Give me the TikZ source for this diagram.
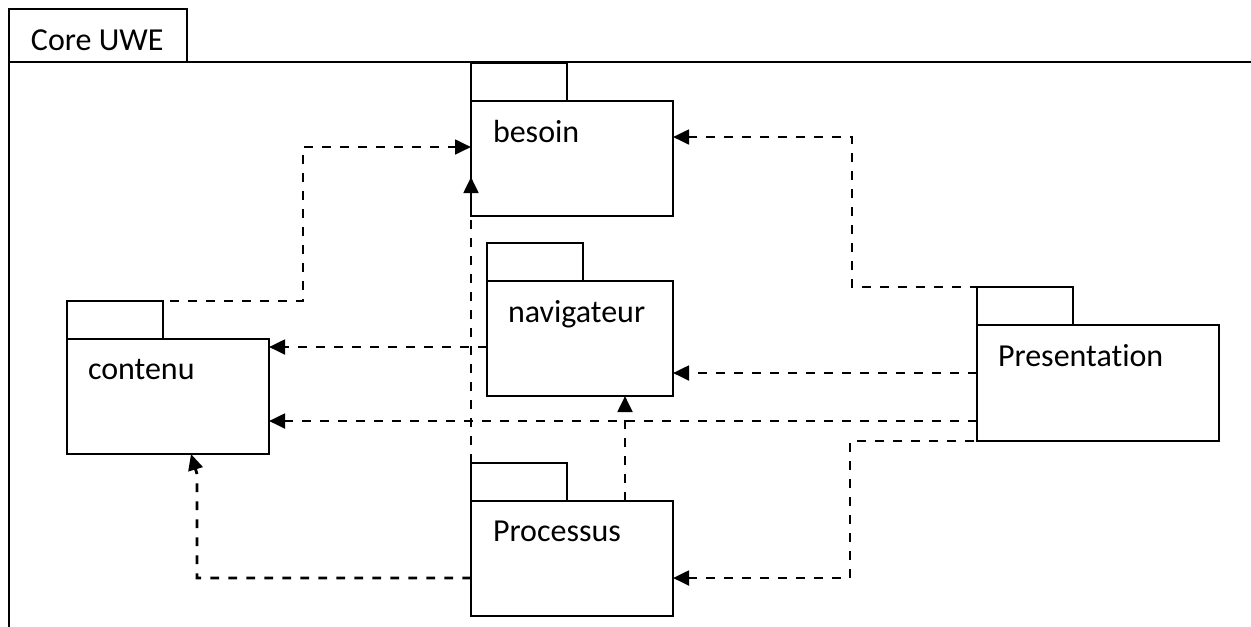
\documentclass[tikz,border=0pt]{standalone}
\usepackage{fontspec}
\setmainfont{Carlito}[Ligatures=NoCommon]
\usetikzlibrary{arrows.meta,calc}
\begin{document}
\begin{tikzpicture}[x=0.75pt,y=-0.75pt,
  every node/.style={outer sep=0pt},
  pkgbody/.style={draw,line width=1.9pt,inner sep=0pt,minimum height=86.25pt},
  pkgtab/.style={draw,line width=1.9pt,inner sep=0pt,minimum width=72pt,minimum height=28.5pt,anchor=south west},
  lbl/.style={anchor=base west,inner sep=0pt,font=\fontsize{24}{28}\selectfont},
  dep/.style={line width=2.1pt,dash pattern=on 6.5pt off 7pt,-{Triangle[length=12pt,width=11pt]}},
  frame/.style={line width=1.9pt}]
\useasboundingbox (0,0) rectangle (1251,626);
% outer frame
\node[draw,line width=1.9pt,inner sep=0pt,minimum width=133.5pt,minimum height=39.75pt,anchor=north west] (frametab) at (9,9) {};
\node[lbl] (title) at (31,50) {Core UWE};
\draw[frame] (9,630) -- (frametab.south west) -- (1255,62);
% packages
\node[pkgbody,minimum width=151.5pt] (besoin) at (572,158.5) {};
\node[pkgtab] (besoinTab) at (besoin.north west) {};
\node[lbl] (besoinL) at (493,142) {besoin};

\node[pkgbody,minimum width=139.5pt] (navigateur) at (580,338.5) {};
\node[pkgtab] (navigateurTab) at (navigateur.north west) {};
\node[lbl] (navigateurL) at (508,322) {navigateur};

\node[pkgbody,minimum width=151.5pt] (contenu) at (168,396.5) {};
\node[pkgtab] (contenuTab) at (contenu.north west) {};
\node[lbl] (contenuL) at (88,379) {contenu};

\node[pkgbody,minimum width=151.5pt] (processus) at (572,558.5) {};
\node[pkgtab] (processusTab) at (processus.north west) {};
\node[lbl] (processusL) at (493,541) {Processus};

\node[pkgbody,minimum width=181.5pt,minimum height=87pt] (presentation) at (1098,383) {};
\node[pkgtab] (presentationTab) at (presentation.north west) {};
\node[lbl] (presentationL) at (998,366) {Presentation};

% connectors
\coordinate (c1) at ($(contenuTab.north)+(19,0)$);
\coordinate (b1) at ($(besoin.west)+(0,-11.5)$);
\draw[dep] (c1) -- (303,301) -- (303,147) -- (b1);

\coordinate (n1) at ($(navigateur.west)+(0,8.5)$);
\draw[dep] (n1) -- (contenu.east |- n1);

\coordinate (p1) at ($(presentation.west)+(0,-10)$);
\draw[dep] (p1) -- (navigateur.east |- p1);

\coordinate (p2) at ($(presentation.west)+(0,38)$);
\draw[dep] (p2) -- (contenu.east |- p2);

\coordinate (p3) at ($(presentationTab.north)+(8,0)$);
\coordinate (b2) at ($(besoin.east)+(0,-21.5)$);
\draw[dep] (p3) -- (852,287) -- (852,137) -- (b2);

\coordinate (p4) at ($(presentation.south)+(2,0)$);
\coordinate (r1) at ($(processus.east)+(0,19.5)$);
\draw[dep] (p4) -- (850,441) -- (850,578) -- (r1);

\coordinate (r2) at ($(processus.west)+(0,19.5)$);
\coordinate (c2) at (contenu.south -| 191,0);
\draw[dep] (r2) -- (197,578) -- (197,474) -- (c2);

\coordinate (b3) at ($(besoin.south west)+(0,-39)$);
\draw[dep] (processusTab.north west) -- (b3);

\coordinate (r3) at (processus.north -| 625,0);
\draw[dep] (r3) -- (navigateur.south -| r3);
\end{tikzpicture}
\end{document}
